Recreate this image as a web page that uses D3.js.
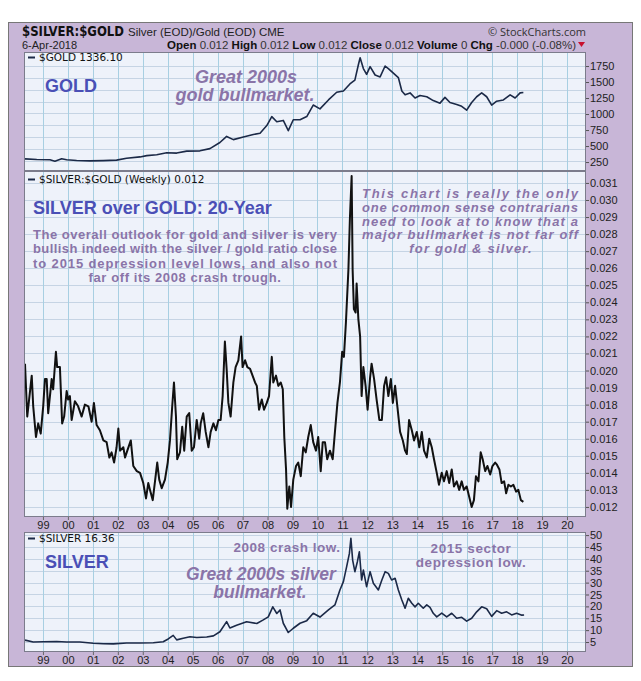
<!DOCTYPE html>
<html>
<head>
<meta charset="utf-8">
<script src="https://cdn.jsdelivr.net/npm/d3@7"></script>
<style>
  body { margin: 0; background: #fff; }
  text { font-family: "Liberation Sans", Arial, sans-serif; }
</style>
</head>
<body>
<svg id="chart" width="641" height="681"></svg>
<script>
// DATA //
var yearTicks = [1999,2000,2001,2002,2003,2004,2005,2006,2007,2008,2009,2010,2011,2012,2013,2014,2015,2016,2017,2018,2019,2020];
var yearLabels = ["99","00","01","02","03","04","05","06","07","08","09","10","11","12","13","14","15","16","17","18","19","20"];
var goldTicks = [250,500,750,1000,1250,1500,1750];
var ratioTicks = [0.012,0.013,0.014,0.015,0.016,0.017,0.018,0.019,0.020,0.021,0.022,0.023,0.024,0.025,0.026,0.027,0.028,0.029,0.030,0.031];
var silverTicks = [5,10,15,20,25,30,35,40,45,50];

var ratioYears = [1998.28,1998.37,1998.55,1998.61,1998.72,1998.81,1998.91,1999.01,1999.08,1999.15,1999.21,1999.35,1999.41,1999.52,1999.57,1999.68,1999.77,1999.85,1999.95,2000.01,2000.08,2000.15,2000.28,2000.41,2000.55,2000.68,2000.82,2000.95,2001.04,2001.15,2001.28,2001.42,2001.55,2001.66,2001.75,2001.85,2001.95,2002.02,2002.09,2002.22,2002.29,2002.38,2002.52,2002.62,2002.76,2002.89,2003.02,2003.13,2003.22,2003.29,2003.40,2003.49,2003.58,2003.66,2003.76,2003.89,2004.00,2004.09,2004.18,2004.25,2004.33,2004.38,2004.49,2004.58,2004.66,2004.76,2004.86,2004.96,2005.05,2005.16,2005.26,2005.32,2005.42,2005.52,2005.63,2005.72,2005.83,2005.93,2006.03,2006.12,2006.20,2006.29,2006.36,2006.43,2006.52,2006.63,2006.72,2006.83,2006.94,2007.00,2007.10,2007.19,2007.30,2007.40,2007.50,2007.57,2007.66,2007.77,2007.86,2007.97,2008.06,2008.17,2008.23,2008.34,2008.43,2008.53,2008.61,2008.67,2008.74,2008.79,2008.87,2008.94,2009.03,2009.14,2009.23,2009.33,2009.43,2009.53,2009.63,2009.73,2009.83,2009.94,2010.03,2010.13,2010.21,2010.30,2010.39,2010.50,2010.61,2010.70,2010.80,2010.90,2010.99,2011.06,2011.14,2011.24,2011.30,2011.37,2011.41,2011.46,2011.53,2011.57,2011.64,2011.71,2011.77,2011.84,2011.93,2012.01,2012.11,2012.17,2012.27,2012.37,2012.48,2012.58,2012.67,2012.75,2012.84,2012.94,2013.02,2013.11,2013.20,2013.31,2013.42,2013.51,2013.58,2013.67,2013.78,2013.87,2013.98,2014.08,2014.18,2014.27,2014.38,2014.48,2014.58,2014.67,2014.78,2014.87,2014.98,2015.07,2015.18,2015.28,2015.38,2015.47,2015.58,2015.68,2015.78,2015.87,2015.98,2016.08,2016.18,2016.27,2016.35,2016.45,2016.54,2016.62,2016.72,2016.81,2016.92,2017.01,2017.12,2017.18,2017.29,2017.38,2017.48,2017.56,2017.65,2017.75,2017.85,2017.96,2018.05,2018.15,2018.25];
var ratioValues = [0.0204,0.0173,0.0197,0.0179,0.0161,0.0169,0.0163,0.0179,0.0195,0.0195,0.0175,0.0195,0.0189,0.0211,0.0202,0.0202,0.0169,0.0173,0.0188,0.0183,0.0185,0.0171,0.0182,0.0179,0.0173,0.0180,0.0179,0.0170,0.0181,0.0168,0.0165,0.0159,0.0158,0.0149,0.0152,0.0146,0.0155,0.0166,0.0153,0.0155,0.0149,0.0153,0.0159,0.0144,0.0141,0.0140,0.0134,0.0125,0.0134,0.0130,0.0124,0.0135,0.0146,0.0136,0.0131,0.0136,0.0146,0.0159,0.0179,0.0193,0.0173,0.0148,0.0152,0.0167,0.0153,0.0173,0.0175,0.0153,0.0155,0.0171,0.0160,0.0169,0.0175,0.0164,0.0155,0.0164,0.0169,0.0165,0.0171,0.0171,0.0185,0.0217,0.0201,0.0181,0.0173,0.0193,0.0202,0.0206,0.0220,0.0202,0.0206,0.0202,0.0201,0.0197,0.0193,0.0191,0.0177,0.0183,0.0177,0.0181,0.0185,0.0208,0.0193,0.0197,0.0191,0.0193,0.0189,0.0161,0.0142,0.0119,0.0132,0.0120,0.0136,0.0144,0.0146,0.0138,0.0155,0.0152,0.0161,0.0168,0.0158,0.0153,0.0161,0.0141,0.0158,0.0158,0.0148,0.0153,0.0148,0.0164,0.0181,0.0193,0.0211,0.0208,0.0228,0.0259,0.0289,0.0314,0.0259,0.0236,0.0234,0.0251,0.0230,0.0220,0.0185,0.0202,0.0191,0.0177,0.0196,0.0204,0.0195,0.0183,0.0171,0.0171,0.0191,0.0196,0.0185,0.0195,0.0181,0.0191,0.0179,0.0164,0.0159,0.0153,0.0151,0.0171,0.0165,0.0159,0.0164,0.0155,0.0164,0.0153,0.0149,0.0160,0.0155,0.0148,0.0140,0.0133,0.0140,0.0135,0.0141,0.0134,0.0142,0.0132,0.0135,0.0130,0.0135,0.0130,0.0132,0.0126,0.0120,0.0124,0.0138,0.0135,0.0152,0.0148,0.0141,0.0144,0.0139,0.0144,0.0146,0.0145,0.0142,0.0134,0.0135,0.0128,0.0133,0.0132,0.0133,0.0129,0.0130,0.0124,0.0123];

var goldYears = [1998.28,1998.75,1999.28,1999.48,1999.75,1999.95,2000.35,2000.88,2001.42,2001.95,2002.35,2002.89,2003.16,2003.56,2003.96,2004.36,2004.76,2005.29,2005.69,2006.09,2006.36,2006.63,2007.03,2007.43,2007.70,2007.97,2008.17,2008.37,2008.63,2008.83,2009.03,2009.30,2009.57,2009.83,2010.10,2010.44,2010.77,2011.04,2011.30,2011.50,2011.64,2011.71,2011.84,2011.97,2012.11,2012.31,2012.51,2012.71,2012.84,2013.04,2013.24,2013.38,2013.51,2013.71,2013.91,2014.11,2014.38,2014.64,2014.91,2015.11,2015.31,2015.58,2015.78,2015.98,2016.18,2016.38,2016.58,2016.78,2016.98,2017.18,2017.45,2017.72,2017.92,2018.12,2018.25];
var goldValues = [300,290,285,262,300,285,275,268,272,280,310,330,350,365,395,390,420,425,460,555,650,600,640,680,700,820,960,880,900,740,910,910,960,1140,1080,1220,1340,1360,1470,1530,1770,1880,1710,1620,1740,1610,1580,1750,1710,1640,1570,1360,1300,1330,1250,1290,1270,1210,1170,1260,1180,1150,1120,1060,1180,1270,1330,1270,1140,1200,1220,1300,1250,1330,1336];

var silverYears = [1998.28,1998.61,1999.01,1999.55,1999.95,2000.48,2001.02,2001.42,2001.82,2002.35,2002.89,2003.42,2003.82,2004.02,2004.22,2004.36,2004.62,2004.89,2005.16,2005.56,2005.83,2006.09,2006.36,2006.49,2006.76,2007.16,2007.57,2007.83,2008.03,2008.21,2008.37,2008.50,2008.63,2008.83,2009.03,2009.30,2009.57,2009.83,2010.10,2010.44,2010.70,2010.90,2011.04,2011.17,2011.28,2011.34,2011.41,2011.50,2011.60,2011.68,2011.77,2011.84,2011.97,2012.11,2012.24,2012.44,2012.58,2012.71,2012.84,2012.97,2013.11,2013.24,2013.38,2013.51,2013.64,2013.78,2013.91,2014.04,2014.24,2014.38,2014.51,2014.64,2014.78,2014.98,2015.18,2015.38,2015.58,2015.78,2015.98,2016.18,2016.38,2016.58,2016.78,2016.98,2017.18,2017.38,2017.58,2017.78,2017.98,2018.19,2018.28];
var silverValues = [5.8,5.0,5.1,5.2,5.0,5.0,4.5,4.3,4.2,4.6,4.6,4.7,5.1,6.3,7.8,5.9,6.6,7.2,6.9,7.1,7.6,9.3,13.6,10.9,12.1,13.5,12.8,14.3,15.6,19.8,17.0,18.5,12.9,9.0,10.8,12.9,14.0,17.1,15.5,18.5,20.6,26.9,30.4,36.7,42.3,48.6,39.5,34.6,38.8,43.0,31.1,35.3,28.3,34.6,29.7,26.9,31.1,34.6,33.9,31.1,31.8,26.9,22.7,19.2,23.4,21.3,19.8,21.3,19.2,20.6,19.6,17.1,15.6,17.2,15.6,17.1,15.0,15.4,13.8,15.0,17.7,19.8,19.0,15.8,18.2,17.1,17.7,16.4,17.1,16.3,16.36];

// LAYOUT //
var plotLeft = 24, plotRight = 586;
var goldPanel = {top: 52, bottom: 171};
var ratioPanel = {top: 171, bottom: 517};
var silverPanel = {top: 532, bottom: 652};

var purple = "#c8b6d7", plotBg = "#eef2fa", vGrid = "#a8cfe2", hGrid = "#c6d4e4";
var noteColor = "#8a74a8", labelBlue = "#4a4fb6";

function toDate(y) {
  var yr = Math.floor(y), s = new Date(yr, 0, 1), e = new Date(yr + 1, 0, 1);
  return new Date(+s + (y - yr) * (e - s));
}
function pairs(years, values) {
  return years.map(function(y, i) { return {date: toDate(y), v: values[i]}; });
}

var svg = d3.select("#chart");
svg.append("rect").attr("width", 641).attr("height", 681).attr("fill", "#fff");
svg.append("rect")
    .attr("x", 8.5).attr("y", 22.5).attr("width", 624).attr("height", 644)
    .attr("fill", purple).attr("stroke", "#777");

var x = d3.scaleTime()
    .domain([toDate(1998.24), toDate(2020.76)])
    .range([plotLeft, plotRight]);

var yGold = d3.scaleLinear().domain([110, 1969]).range([goldPanel.bottom, goldPanel.top]);
var yRatio = d3.scaleLinear().domain([0.01141, 0.0317]).range([ratioPanel.bottom, ratioPanel.top]);
var ySilver = d3.scaleLinear().domain([0.8, 51.3]).range([silverPanel.bottom, silverPanel.top]);

var yearDates = yearTicks.map(function(y) { return new Date(y, 0, 1); });

function drawPanel(name, p, y, hLines, data, lineColor, lineWidth, ticks, fmt) {
  var g = svg.append("g").attr("class", name);
  g.append("rect")
      .attr("x", plotLeft).attr("y", p.top)
      .attr("width", plotRight - plotLeft).attr("height", p.bottom - p.top)
      .attr("fill", plotBg);

  g.selectAll(".hgrid").data(hLines).enter().append("line")
      .attr("x1", plotLeft).attr("x2", plotRight)
      .attr("y1", function(d) { return Math.round(y(d)) + 0.5; })
      .attr("y2", function(d) { return Math.round(y(d)) + 0.5; })
      .attr("stroke", hGrid).attr("stroke-width", 1);

  g.selectAll(".vgrid").data(yearDates).enter().append("line")
      .attr("x1", function(d) { return Math.round(x(d)) + 0.5; })
      .attr("x2", function(d) { return Math.round(x(d)) + 0.5; })
      .attr("y1", p.top).attr("y2", p.bottom)
      .attr("stroke", vGrid).attr("stroke-width", 1);

  svg.append("clipPath").attr("id", "clip-" + name)
    .append("rect")
      .attr("x", plotLeft).attr("y", p.top)
      .attr("width", plotRight - plotLeft).attr("height", p.bottom - p.top);

  var line = d3.line()
      .x(function(d) { return x(d.date); })
      .y(function(d) { return y(d.v); });

  g.append("path")
      .datum(data)
      .attr("clip-path", "url(#clip-" + name + ")")
      .attr("fill", "none")
      .attr("stroke", lineColor)
      .attr("stroke-width", lineWidth)
      .attr("stroke-linejoin", "round")
      .attr("d", line);

  g.append("rect")
      .attr("x", plotLeft + 0.5).attr("y", p.top + 0.5)
      .attr("width", plotRight - plotLeft - 1).attr("height", p.bottom - p.top - 1)
      .attr("fill", "none").attr("stroke", "#7c7c8c");

  var axis = d3.axisRight(y).tickValues(ticks).tickFormat(fmt).tickSize(3).tickPadding(1);
  var ga = g.append("g").attr("transform", "translate(" + plotRight + ",0)").call(axis);
  ga.select(".domain").remove();
  ga.selectAll("line").attr("stroke", "#555");
  ga.selectAll("text")
      .attr("fill", "#222")
      .style("font-family", "'Liberation Sans', Arial, sans-serif")
      .style("font-size", "11px");
  return g;
}

// GOLD PANEL //
// grid spacing as on the source chart (about 12px)
var goldGrid = d3.range(1750, 100, -185);
drawPanel("gold", goldPanel, yGold, goldGrid, pairs(goldYears, goldValues), "#1b2947", 1.6, goldTicks, d3.format("d"));

// RATIO PANEL //
drawPanel("ratio", ratioPanel, yRatio, ratioTicks, pairs(ratioYears, ratioValues), "#111", 2, ratioTicks, d3.format(".3f"));

// SILVER PANEL //
drawPanel("silver", silverPanel, ySilver, silverTicks, pairs(silverYears, silverValues), "#1b2947", 1.6, silverTicks, d3.format("d"));

// X AXES //
function drawXAxis(yPos) {
  var axis = d3.axisBottom(x)
      .tickValues(yearDates)
      .tickFormat(function(d, i) { return yearLabels[i]; })
      .tickSize(3).tickPadding(1);
  var ga = svg.append("g").attr("transform", "translate(0," + yPos + ")").call(axis);
  ga.select(".domain").remove();
  ga.selectAll("line").attr("stroke", "#666");
  ga.selectAll("text")
      .attr("fill", "#222")
      .style("font-family", "'Liberation Sans', Arial, sans-serif")
      .style("font-size", "11px");
}
drawXAxis(ratioPanel.bottom);
drawXAxis(silverPanel.bottom);

// LEGENDS //
function legend(yPos, label) {
  svg.append("line")
      .attr("x1", 28).attr("x2", 35).attr("y1", yPos - 3.5).attr("y2", yPos - 3.5)
      .attr("stroke", "#1b2947").attr("stroke-width", 2);
  svg.append("text")
      .attr("x", 39).attr("y", yPos)
      .style("font-family", "'DejaVu Sans', Verdana, sans-serif")
      .style("font-size", "10.5px")
      .attr("fill", "#111")
      .text(label);
}
legend(61, "$GOLD 1336.10");
legend(183, "$SILVER:$GOLD (Weekly) 0.012");
legend(542, "$SILVER 16.36");

// HEADER //
svg.append("text")
    .attr("x", 22).attr("y", 36)
    .style("font-family", "'DejaVu Sans Condensed', 'Liberation Sans Narrow', sans-serif")
    .style("font-weight", "bold").style("font-size", "14.5px")
    .attr("textLength", 102).attr("lengthAdjust", "spacingAndGlyphs")
    .attr("fill", "#111")
    .text("$SILVER:$GOLD");
svg.append("text")
    .attr("x", 128).attr("y", 36)
    .style("font-size", "11.5px").attr("fill", "#222")
    .text("Silver (EOD)/Gold (EOD) CME");
svg.append("text")
    .attr("x", 586).attr("y", 36)
    .attr("text-anchor", "end")
    .style("font-family", "'Open Sans', 'Liberation Sans', sans-serif")
    .style("font-size", "11px").attr("fill", "#333")
    .text("\u00A9 StockCharts.com");
svg.append("text")
    .attr("x", 22).attr("y", 48.5)
    .style("font-size", "11px").attr("fill", "#222")
    .text("6-Apr-2018");

var ohlc = [["Open", "0.012"], ["High", "0.012"], ["Low", "0.012"], ["Close", "0.012"], ["Volume", "0"], ["Chg", "-0.000 (-0.08%)"]];
var hdr = svg.append("text")
    .attr("x", 576).attr("y", 48.5)
    .attr("text-anchor", "end")
    .style("font-size", "11.5px").attr("fill", "#111");
ohlc.forEach(function(o, i) {
  hdr.append("tspan").style("font-weight", "bold").text((i ? "\u00A0" : "") + o[0]);
  hdr.append("tspan").attr("fill", "#333").text("\u00A0" + o[1]);
});
svg.append("path")
    .attr("d", "M578,42 L585,42 L581.5,47 Z")
    .attr("fill", "#c8102e");

// ANNOTATIONS //
function note(xPos, yPos, str, size, color, opts) {
  opts = opts || {};
  var t = svg.append("text")
      .attr("x", xPos).attr("y", yPos)
      .attr("text-anchor", opts.anchor || "start")
      .style("font-size", size + "px")
      .style("font-weight", "bold")
      .style("font-style", opts.italic ? "italic" : "normal")
      .style("letter-spacing", (opts.spacing || 0) + "px")
      .attr("fill", color)
      .text(str);
  if (opts.length) t.attr("textLength", opts.length).attr("lengthAdjust", "spacing");
  return t;
}

note(45, 92, "GOLD", 18, labelBlue);
note(246, 83, "Great 2000s", 18, noteColor, {anchor: "middle", italic: true});
note(245, 101, "gold bullmarket.", 18, noteColor, {anchor: "middle", italic: true});

note(33, 214, "SILVER over GOLD: 20-Year", 18, labelBlue);
var leftPara = ["The overall outlook for gold and silver is very",
                "bullish indeed with the silver / gold ratio close",
                "to 2015 depression level lows, and also not",
                "far off its 2008 crash trough."];
leftPara.forEach(function(s, i) {
  if (i < 3) note(33, 239 + i * 14.3, s, 13, noteColor, {length: 304});
  else note(185, 239 + i * 14.3, s, 13, noteColor, {anchor: "middle", spacing: 0.6});
});

var rightPara = ["This chart is really the only",
                 "one common sense contrarians",
                 "need to look at to know that a",
                 "major bullmarket is not far off",
                 "for gold & silver."];
rightPara.forEach(function(s, i) {
  if (i < 4) note(362, 198 + i * 13.8, s, 13, noteColor, {italic: true, length: 216});
  else note(471, 198 + i * 13.8, s, 13, noteColor, {anchor: "middle", italic: true, spacing: 1.2});
});

note(45, 568, "SILVER", 18, labelBlue);
note(287, 552, "2008 crash low.", 13.5, noteColor, {anchor: "middle", spacing: 0.5});
note(261, 580, "Great 2000s silver", 17.5, noteColor, {anchor: "middle", italic: true});
note(260, 597.5, "bullmarket.", 17.5, noteColor, {anchor: "middle", italic: true});
note(471, 553, "2015 sector", 13.5, noteColor, {anchor: "middle", spacing: 0.6});
note(471, 567, "depression low.", 13.5, noteColor, {anchor: "middle", spacing: 0.6});
</script>
</body>
</html>
